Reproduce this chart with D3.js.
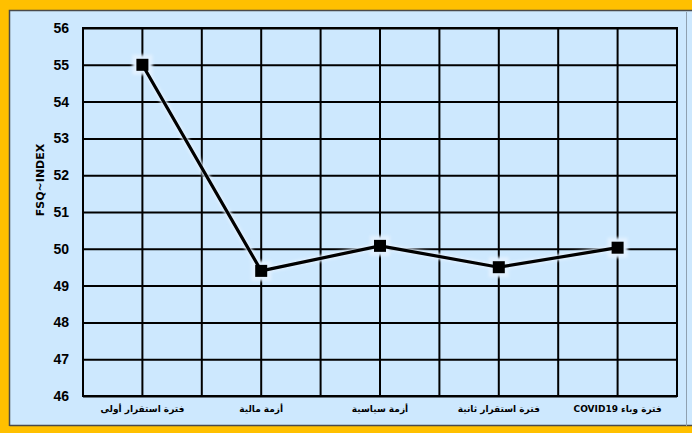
<!DOCTYPE html>
<html>
<head>
<meta charset="utf-8">
<script src="https://cdn.jsdelivr.net/npm/d3@7"></script>
<style>
  html, body { margin: 0; padding: 0; background: #FFC000; }
  svg { display: block; }
</style>
</head>
<body>
<svg id="chart" width="692" height="433"></svg>
<script>
// Financial stress index across five periods
const categories = [
  "فترة استقرار أولى",
  "أزمة مالية",
  "أزمة سياسية",
  "فترة استقرار ثانية",
  "فترة وباء COVID19"
];
const fsqValues = [55.0, 49.4, 50.08, 49.5, 50.03];
const yTicks = [46, 47, 48, 49, 50, 51, 52, 53, 54, 55, 56];
const yTitle = "FSQ~INDEX";

const W = 692, H = 433;
const plot = { left: 83, top: 28, right: 677, bottom: 396 };
const bg = "#CDE8FE";

const svg = d3.select("#chart");

// outer frame
svg.append("rect").attr("width", W).attr("height", H).attr("fill", "#FFC000");
svg.append("rect").attr("x", 10).attr("y", 11).attr("width", W - 10).attr("height", 415).attr("fill", bg);
svg.append("path").attr("d", "M9.5,426 V10.5 H692").attr("fill", "none").attr("stroke", "#4a4a4a").attr("stroke-width", 1.5);
svg.append("path").attr("d", "M9.5,425.5 H692").attr("stroke", "#4a4a4a").attr("stroke-width", 1.5);
svg.append("line").attr("x1", 686.5).attr("x2", 686.5).attr("y1", 12).attr("y2", 426)
  .attr("stroke", "#8fa0b0").attr("stroke-width", 1);

const defs = svg.append("defs");
defs.append("filter").attr("id", "soft").attr("x", "-50%").attr("y", "-50%").attr("width", "200%").attr("height", "200%")
  .append("feGaussianBlur").attr("stdDeviation", 1.6);

const x = d3.scaleBand().domain(categories).range([plot.left, plot.right]).padding(0);
const y = d3.scaleLinear().domain([46, 56]).range([plot.bottom, plot.top]);

const g = svg.append("g");

// horizontal grid + y labels
const yAxis = d3.axisLeft(y).tickValues(yTicks).tickFormat(d3.format("d"))
  .tickSize(-(plot.right - plot.left)).tickPadding(14);
const ya = g.append("g").attr("transform", `translate(${plot.left},0)`).call(yAxis);
ya.select(".domain").remove();
ya.selectAll(".tick line").attr("stroke", "#000").attr("stroke-width", 2);
ya.selectAll(".tick text").attr("fill", "#000")
  .style("font-family", "'Liberation Sans', Arial, sans-serif")
  .style("font-weight", "bold").style("font-size", "14px");

// vertical grid at category centres (with labels) and at band boundaries
const xAxis = d3.axisBottom(x).tickSize(-(plot.bottom - plot.top)).tickPadding(10);
const xa = g.append("g").attr("transform", `translate(0,${plot.bottom})`).call(xAxis);
xa.select(".domain").remove();
xa.selectAll(".tick line").attr("stroke", "#000").attr("stroke-width", 2);
xa.selectAll(".tick text").attr("fill", "#000")
  .attr("direction", "rtl")
  .style("unicode-bidi", "plaintext")
  .style("font-family", "'DejaVu Sans', sans-serif")
  .style("font-weight", "bold").style("font-size", "9px");

const bounds = categories.map(c => x(c)).concat([x.range()[1]]);
g.append("g").selectAll("line").data(bounds).join("line")
  .attr("x1", d => d).attr("x2", d => d)
  .attr("y1", plot.top).attr("y2", plot.bottom)
  .attr("stroke", "#000").attr("stroke-width", 2);

// plot frame
g.append("rect").attr("x", plot.left).attr("y", plot.top)
  .attr("width", plot.right - plot.left).attr("height", plot.bottom - plot.top)
  .attr("fill", "none").attr("stroke", "#000").attr("stroke-width", 2);

// y title
svg.append("text")
  .attr("transform", `translate(44,180) rotate(-90)`)
  .attr("text-anchor", "middle")
  .style("font-family", "'DejaVu Sans', sans-serif")
  .style("font-weight", "bold").style("font-size", "11px")
  .text(yTitle);

// series
const pts = categories.map((c, i) => [x(c) + x.bandwidth() / 2, y(fsqValues[i])]);
const line = d3.line();

const halo = svg.append("g").attr("filter", "url(#soft)");
halo.append("path").attr("d", line(pts)).attr("fill", "none")
  .attr("stroke", "#E2F1FF").attr("stroke-width", 6);
halo.selectAll("rect").data(pts).join("rect")
  .attr("x", d => d[0] - 10).attr("y", d => d[1] - 10)
  .attr("width", 20).attr("height", 20).attr("fill", "#E2F1FF");

svg.append("path").attr("d", line(pts)).attr("fill", "none")
  .attr("stroke", "#000").attr("stroke-width", 3.2).attr("stroke-linejoin", "round");

svg.append("g").selectAll("rect").data(pts).join("rect")
  .attr("x", d => d[0] - 6).attr("y", d => d[1] - 6)
  .attr("width", 12).attr("height", 12).attr("fill", "#000");
</script>
</body>
</html>
